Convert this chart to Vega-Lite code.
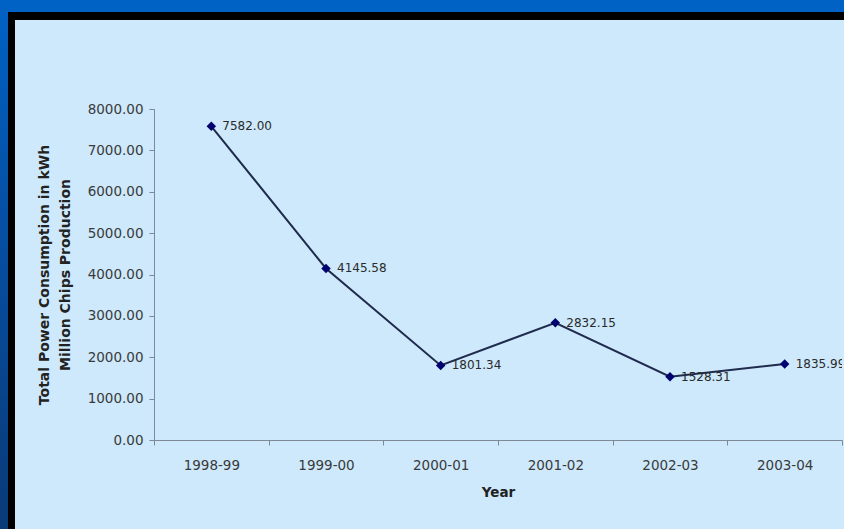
{
  "$schema": "https://vega.github.io/schema/vega-lite/v6.json",
  "background": "#cde9fb",
  "padding": 0,
  "spacing": 0,
  "config": {
    "view": {"stroke": null},
    "font": "DejaVu Sans"
  },
  "hconcat": [
    {
      "width": 8,
      "height": 529,
      "data": {"values": [{}]},
      "mark": {
        "type": "rect",
        "color": {
          "gradient": "linear",
          "x1": 0, "y1": 0, "x2": 0, "y2": 1,
          "stops": [
            {"offset": 0, "color": "#0062c4"},
            {"offset": 0.35, "color": "#0552a8"},
            {"offset": 1, "color": "#0a3a78"}
          ]
        }
      },
      "encoding": {
        "x": {"datum": 0, "type": "quantitative", "scale": {"domain": [0, 1]}, "axis": null},
        "x2": {"datum": 1},
        "y": {"datum": 0, "type": "quantitative", "scale": {"domain": [0, 1]}, "axis": null},
        "y2": {"datum": 1}
      }
    },
    {
      "spacing": 0,
      "vconcat": [
        {
          "width": 836,
          "height": 12,
          "data": {"values": [{}]},
          "mark": {"type": "rect", "color": "#0062c4"},
          "encoding": {
            "x": {"datum": 0, "type": "quantitative", "scale": {"domain": [0, 1]}, "axis": null},
            "x2": {"datum": 1},
            "y": {"datum": 0, "type": "quantitative", "scale": {"domain": [0, 1]}, "axis": null},
            "y2": {"datum": 1}
          }
        },
        {
          "spacing": 0,
          "hconcat": [
            {
              "width": 7,
              "height": 517,
              "data": {"values": [{}]},
              "mark": {"type": "rect", "color": "#000000"},
              "encoding": {
                "x": {"datum": 0, "type": "quantitative", "scale": {"domain": [0, 1]}, "axis": null},
                "x2": {"datum": 1},
                "y": {"datum": 0, "type": "quantitative", "scale": {"domain": [0, 1]}, "axis": null},
                "y2": {"datum": 1}
              }
            },
            {
              "spacing": 82,
              "vconcat": [
                {
                  "width": 829,
                  "height": 8,
                  "data": {"values": [{}]},
                  "mark": {"type": "rect", "color": "#000000"},
                  "encoding": {
                    "x": {"datum": 0, "type": "quantitative", "scale": {"domain": [0, 1]}, "axis": null},
                    "x2": {"datum": 1},
                    "y": {"datum": 0, "type": "quantitative", "scale": {"domain": [0, 1]}, "axis": null},
                    "y2": {"datum": 1}
                  }
                },
                {
                  "spacing": 0,
                  "hconcat": [
                    {
                      "width": 22,
                      "height": 1,
                      "data": {"values": []},
                      "mark": {"type": "rect", "opacity": 0},
                      "encoding": {
                        "x": {"datum": 0, "type": "quantitative", "scale": {"domain": [0, 1]}, "axis": null},
                        "x2": {"datum": 1},
                        "y": {"datum": 0, "type": "quantitative", "scale": {"domain": [0, 1]}, "axis": null},
                        "y2": {"datum": 1}
                      }
                    },
                    {
                      "width": 688,
                      "height": 331,
                      "data": {
                        "values": [
                          {"year": "1998-99", "kwh": 7582.00},
                          {"year": "1999-00", "kwh": 4145.58},
                          {"year": "2000-01", "kwh": 1801.34},
                          {"year": "2001-02", "kwh": 2832.15},
                          {"year": "2002-03", "kwh": 1528.31},
                          {"year": "2003-04", "kwh": 1835.99}
                        ]
                      },
                      "encoding": {
                        "x": {
                          "field": "year",
                          "type": "ordinal",
                          "sort": null,
                          "scale": {"type": "band", "paddingInner": 0, "paddingOuter": 0},
                          "axis": {
                            "title": "Year",
                            "tickBand": "extent",
                            "labelAngle": 0,
                            "grid": false,
                            "domainColor": "#7d8a96",
                            "tickColor": "#7d8a96",
                            "tickSize": 5,
                            "labelPadding": 13,
                            "labelFont": "DejaVu Sans",
                            "labelFontSize": 13.5,
                            "labelColor": "#3a3a3a",
                            "titleFont": "DejaVu Sans",
                            "titleFontSize": 13.5,
                            "titleFontWeight": "bold",
                            "titleColor": "#222222",
                            "titlePadding": 14
                          }
                        },
                        "y": {
                          "field": "kwh",
                          "type": "quantitative",
                          "scale": {"domain": [0, 8000], "nice": false},
                          "axis": {
                            "title": ["Total Power Consumption in kWh", "Million Chips Production"],
                            "values": [0, 1000, 2000, 3000, 4000, 5000, 6000, 7000, 8000],
                            "format": ".2f",
                            "grid": false,
                            "domainColor": "#7d8a96",
                            "tickColor": "#7d8a96",
                            "tickSize": 5,
                            "labelPadding": 6,
                            "labelFont": "DejaVu Sans",
                            "labelFontSize": 13.5,
                            "labelColor": "#3a3a3a",
                            "titleFont": "DejaVu Sans",
                            "titleFontSize": 14,
                            "titleFontWeight": "bold",
                            "titleColor": "#222222",
                            "titleLineHeight": 21,
                            "titlePadding": 15
                          }
                        }
                      },
                      "layer": [
                        {
                          "mark": {"type": "line", "color": "#1f2a4d", "strokeWidth": 2}
                        },
                        {
                          "mark": {"type": "point", "shape": "diamond", "filled": true, "size": 90, "color": "#00006e", "opacity": 1}
                        },
                        {
                          "mark": {"type": "text", "align": "left", "baseline": "middle", "dx": 11, "fontSize": 12, "font": "DejaVu Sans", "color": "#2a2a2a", "clip": true},
                          "encoding": {"text": {"field": "kwh", "type": "quantitative", "format": ".2f"}}
                        }
                      ]
                    }
                  ]
                }
              ]
            }
          ]
        }
      ]
    }
  ]
}
